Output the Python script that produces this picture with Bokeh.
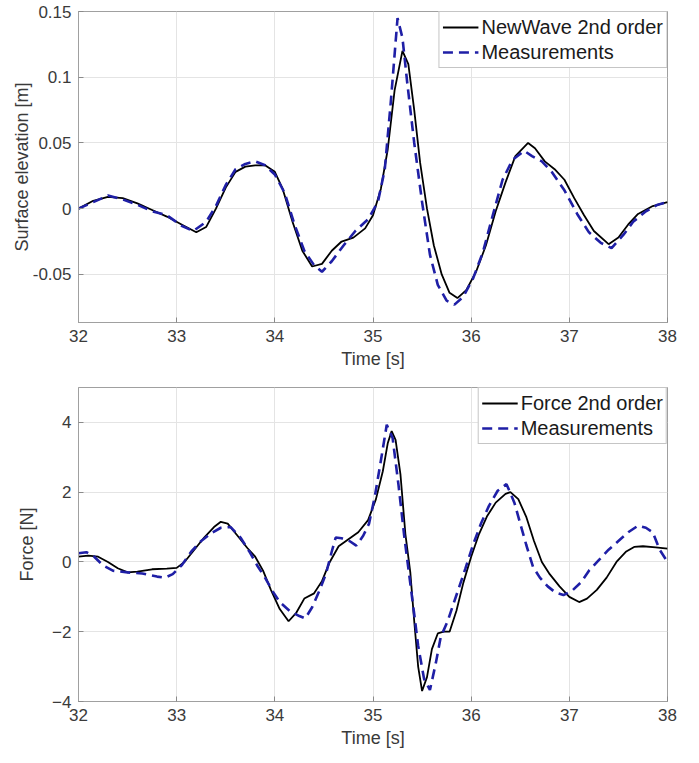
from bokeh.plotting import figure
from bokeh.layouts import column
from bokeh.models import FixedTicker, Range1d, Legend, LegendItem
from bokeh.embed import file_html
from bokeh.resources import INLINE

# ---------------- data: surface elevation ----------------
t_nw = [32.00, 32.15, 32.30, 32.45, 32.60, 32.75, 32.90, 33.05, 33.20, 33.30,
        33.40, 33.50, 33.60, 33.70, 33.80, 33.90, 34.00, 34.08, 34.18, 34.28,
        34.38, 34.48, 34.58, 34.68, 34.80, 34.92, 35.00, 35.08, 35.15, 35.22,
        35.30, 35.36, 35.42, 35.48, 35.55, 35.62, 35.70, 35.78, 35.86, 35.95,
        36.05, 36.15, 36.25, 36.35, 36.45, 36.58, 36.65, 36.75, 36.85, 36.95,
        37.05, 37.15, 37.25, 37.40, 37.50, 37.60, 37.70, 37.85, 38.00]
eta_nw = [0.000, 0.006, 0.009, 0.008, 0.004, -0.001, -0.006, -0.012, -0.018, -0.014,
          0.000, 0.016, 0.028, 0.032, 0.033, 0.033, 0.028, 0.015, -0.010, -0.032,
          -0.044, -0.042, -0.032, -0.025, -0.022, -0.015, -0.005, 0.015, 0.045, 0.090,
          0.120, 0.110, 0.075, 0.035, 0.000, -0.028, -0.050, -0.064, -0.068, -0.062,
          -0.048, -0.028, -0.002, 0.020, 0.040, 0.050, 0.046, 0.036, 0.030, 0.022,
          0.008, -0.005, -0.017, -0.027, -0.022, -0.012, -0.004, 0.002, 0.005]

t_me = [32.00, 32.15, 32.30, 32.45, 32.60, 32.75, 32.90, 33.05, 33.17, 33.30,
        33.40, 33.50, 33.60, 33.70, 33.80, 33.90, 34.00, 34.10, 34.20, 34.30,
        34.40, 34.48, 34.58, 34.70, 34.82, 34.95, 35.05, 35.12, 35.18, 35.25,
        35.30, 35.35, 35.42, 35.50, 35.58, 35.66, 35.75, 35.83, 35.92, 36.02,
        36.12, 36.22, 36.32, 36.42, 36.54, 36.62, 36.72, 36.82, 36.95, 37.08,
        37.20, 37.32, 37.43, 37.55, 37.65, 37.78, 37.90, 38.00]
eta_me = [0.000, 0.005, 0.010, 0.007, 0.003, -0.002, -0.005, -0.013, -0.017, -0.010,
          0.002, 0.018, 0.030, 0.034, 0.036, 0.033, 0.026, 0.012, -0.012, -0.032,
          -0.043, -0.048, -0.040, -0.028, -0.017, -0.008, 0.005, 0.030, 0.080, 0.145,
          0.130, 0.095, 0.050, 0.005, -0.035, -0.058, -0.070, -0.073, -0.067, -0.053,
          -0.033, -0.005, 0.022, 0.037, 0.044, 0.040, 0.036, 0.028, 0.014, -0.004,
          -0.018, -0.026, -0.030, -0.020, -0.010, -0.002, 0.003, 0.005]

# ---------------- data: force ----------------
t_f2 = [32.00, 32.10, 32.20, 32.30, 32.40, 32.50, 32.60, 32.75, 32.90, 33.00,
        33.08, 33.18, 33.28, 33.38, 33.45, 33.52, 33.62, 33.72, 33.80, 33.88,
        33.96, 34.05, 34.14, 34.22, 34.30, 34.40, 34.48, 34.56, 34.65, 34.75,
        34.85, 34.95, 35.03, 35.10, 35.15, 35.19, 35.23, 35.28, 35.33, 35.38,
        35.42, 35.46, 35.50, 35.55, 35.60, 35.66, 35.72, 35.78, 35.85, 35.92,
        36.00, 36.08, 36.16, 36.25, 36.35, 36.40, 36.48, 36.56, 36.64, 36.72,
        36.80, 36.90, 37.00, 37.10, 37.18, 37.28, 37.38, 37.48, 37.58, 37.66,
        37.75, 37.88, 38.00]
f_2nd = [0.15, 0.18, 0.15, 0.00, -0.18, -0.30, -0.28, -0.21, -0.19, -0.17,
         0.00, 0.35, 0.70, 1.00, 1.15, 1.10, 0.75, 0.40, 0.15, -0.25,
         -0.80, -1.35, -1.70, -1.45, -1.05, -0.90, -0.55, 0.00, 0.45, 0.65,
         0.85, 1.20, 1.80, 2.60, 3.40, 3.75, 3.50, 2.50, 0.80, -0.30,
         -1.70, -3.00, -3.70, -3.30, -2.50, -2.05, -2.00, -2.00, -1.40, -0.60,
         0.15, 0.80, 1.30, 1.70, 1.95, 2.00, 1.80, 1.30, 0.60, 0.00,
         -0.35, -0.70, -1.00, -1.15, -1.05, -0.80, -0.45, 0.00, 0.30, 0.43,
         0.45, 0.42, 0.38]

t_fm = [32.00, 32.08, 32.16, 32.25, 32.35, 32.50, 32.65, 32.80, 32.88, 32.96,
        33.05, 33.15, 33.25, 33.35, 33.45, 33.55, 33.65, 33.74, 33.82, 33.90,
        33.98, 34.05, 34.15, 34.25, 34.31, 34.38, 34.45, 34.52, 34.58, 34.62,
        34.68, 34.76, 34.83, 34.90, 34.96, 35.02, 35.08, 35.14, 35.20, 35.26,
        35.32, 35.37, 35.42, 35.46, 35.52, 35.58, 35.64, 35.69, 35.76, 35.82,
        35.88, 35.94, 36.02, 36.10, 36.18, 36.27, 36.36, 36.44, 36.50, 36.56,
        36.63, 36.70, 36.78, 36.86, 36.94, 37.03, 37.12, 37.20, 37.30, 37.40,
        37.50, 37.60, 37.70, 37.78, 37.85, 37.92, 38.00]
f_meas = [0.25, 0.28, 0.15, -0.10, -0.25, -0.30, -0.33, -0.42, -0.45, -0.35,
          -0.10, 0.30, 0.60, 0.82, 0.98, 1.00, 0.70, 0.30, -0.10, -0.45,
          -0.85, -1.15, -1.40, -1.55, -1.62, -1.30, -0.85, -0.35, 0.30, 0.70,
          0.68, 0.60, 0.47, 0.75, 1.10, 1.90, 2.90, 3.93, 3.55, 2.20,
          0.70, -0.40, -1.50, -2.40, -3.35, -3.67, -2.90, -2.15, -1.70, -1.20,
          -0.70, -0.20, 0.50, 1.10, 1.60, 2.04, 2.23, 1.70, 1.10, 0.50,
          -0.14, -0.45, -0.70, -0.88, -0.95, -0.82, -0.58, -0.25, 0.05, 0.35,
          0.60, 0.85, 1.04, 0.98, 0.85, 0.35, 0.00]

x_ticks = [32, 33, 34, 35, 36, 37, 38]
eta_ticks = [-0.05, 0, 0.05, 0.1, 0.15]
eta_tick_labels = ["-0.05", "0", "0.05", "0.1", "0.15"]
f_ticks = [-4, -2, 0, 2, 4]

FONT = "Liberation Sans"
BLUE = "#1f1fa6"
TXT = "#3a3a3a"
AX = "#a0a0a0"


def style(p):
    p.outline_line_color = AX
    p.outline_line_width = 1
    for ax in (p.xaxis, p.yaxis):
        ax.axis_line_color = AX
        ax.major_tick_line_color = "#8a8a8a"
        ax.major_tick_in = 5
        ax.major_tick_out = 0
        ax.minor_tick_line_color = None
        ax.major_label_text_font = FONT
        ax.major_label_text_font_size = "17px"
        ax.major_label_text_color = TXT
        ax.axis_label_text_font = FONT
        ax.axis_label_text_font_size = "18px"
        ax.axis_label_text_font_style = "normal"
        ax.axis_label_text_color = TXT
        ax.major_label_standoff = 7
    p.xaxis.axis_label_standoff = 4
    p.grid.grid_line_color = "#e4e4e4"
    p.grid.grid_line_width = 1
    p.background_fill_color = "white"
    p.border_fill_color = "white"


def make_legend(p, items):
    leg = Legend(items=items, location="top_right")
    leg.margin = 0
    leg.padding = 3
    leg.spacing = 1
    leg.glyph_width = 36
    leg.glyph_height = 24
    leg.label_standoff = 3
    leg.label_height = 24
    leg.label_text_font = FONT
    leg.label_text_font_size = "20px"
    leg.label_text_color = "#1a1a1a"
    leg.border_line_color = "#8c8c8c"
    leg.border_line_width = 1
    leg.background_fill_color = "white"
    leg.background_fill_alpha = 1
    p.add_layout(leg)


# ---------------- top figure ----------------
p1 = figure(width=699, height=376, output_backend="svg", toolbar_location=None,
            x_range=Range1d(32, 38), y_range=Range1d(-0.0866, 0.15),
            min_border_left=78, min_border_right=32, min_border_top=11, min_border_bottom=54)
style(p1)
p1.xaxis.ticker = FixedTicker(ticks=x_ticks)
p1.yaxis.ticker = FixedTicker(ticks=eta_ticks)
p1.yaxis.major_label_overrides = {v: s for v, s in zip(eta_ticks, eta_tick_labels)}
p1.xaxis.axis_label = "Time [s]"
p1.yaxis.axis_label = "Surface elevation [m]"
p1.yaxis.axis_label_standoff = -2

r1 = p1.line(t_nw, eta_nw, line_color="black", line_width=1.8)
r2 = p1.line(t_me, eta_me, line_color=BLUE, line_width=2.6, line_dash="10 6")
make_legend(p1, [LegendItem(label="NewWave 2nd order", renderers=[r1]),
                 LegendItem(label="Measurements", renderers=[r2])])

# ---------------- bottom figure ----------------
p2 = figure(width=699, height=387, output_backend="svg", toolbar_location=None,
            x_range=Range1d(32, 38), y_range=Range1d(-4, 5),
            min_border_left=77, min_border_right=22, min_border_top=11, min_border_bottom=62)
style(p2)
p2.xaxis.ticker = FixedTicker(ticks=x_ticks)
p2.yaxis.ticker = FixedTicker(ticks=f_ticks)
p2.xaxis.axis_label = "Time [s]"
p2.yaxis.axis_label = "Force [N]"
p2.yaxis.axis_label_standoff = 12

r3 = p2.line(t_f2, f_2nd, line_color="black", line_width=1.8)
r4 = p2.line(t_fm, f_meas, line_color=BLUE, line_width=2.6, line_dash="10 6")
make_legend(p2, [LegendItem(label="Force 2nd order", renderers=[r3]),
                 LegendItem(label="Measurements", renderers=[r4])])

layout = column(p1, p2, spacing=0)
open("out.html", "w").write(file_html(layout, INLINE))
